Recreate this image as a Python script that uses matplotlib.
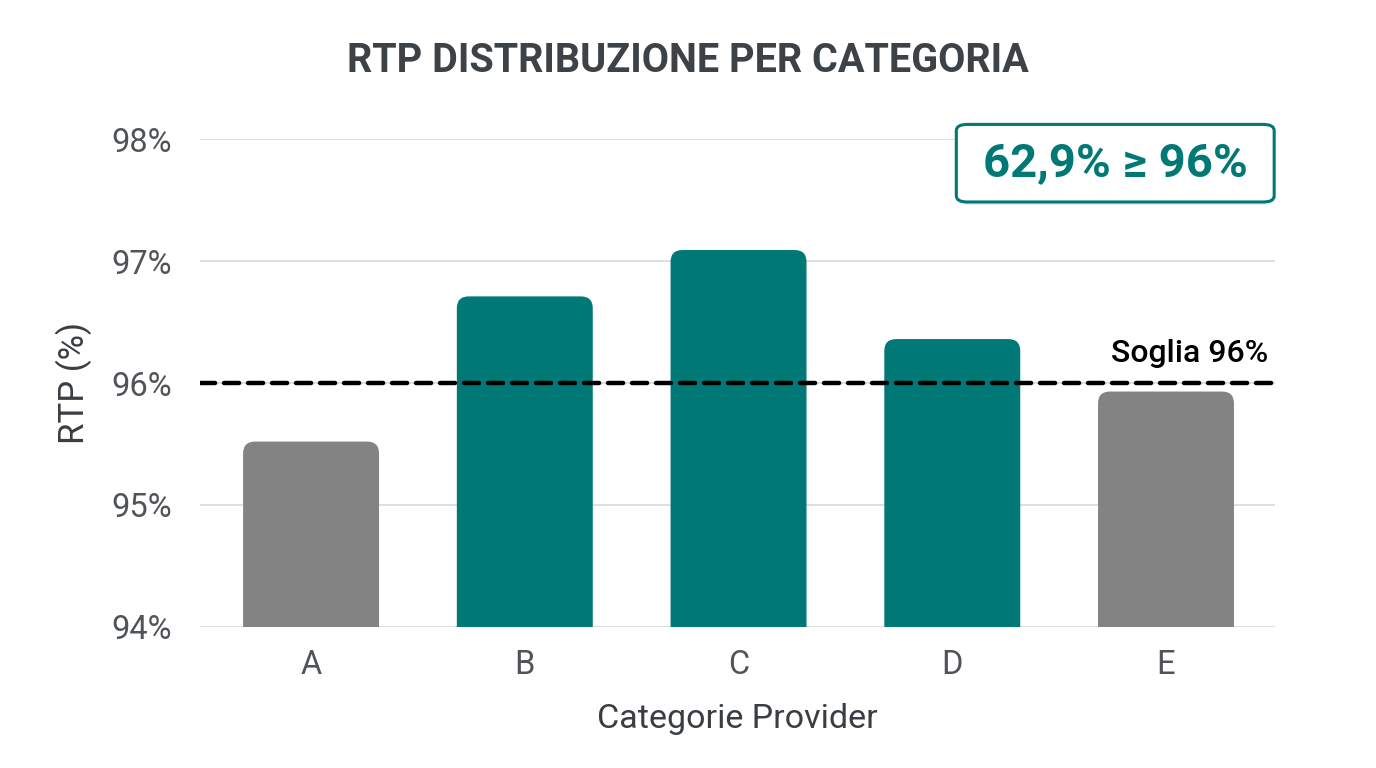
import matplotlib
matplotlib.use('Agg')
from matplotlib import pyplot as plt
from matplotlib.patches import FancyBboxPatch

plt.rcParams['font.family'] = ['Roboto', 'DejaVu Sans']

categories = ['A', 'B', 'C', 'D', 'E']
rtp_values = [95.52, 96.71, 97.09, 96.36, 95.93]
threshold = 96.0
share_label = '62,9% ≥ 96%'
y_ticks = [94, 95, 96, 97, 98]

TEAL = '#007876'
GREY = '#838383'
DARK = '#3d4247'

fig = plt.figure(figsize=(13.76, 7.68), dpi=100)
ax = fig.add_axes([0.1453, 0.1836, 0.7813, 0.6354])

colors = [TEAL if v >= threshold else GREY for v in rtp_values]
bars = ax.bar(range(len(categories)), [v - 94 for v in rtp_values], bottom=94,
              width=0.636, color=colors, zorder=2)

# replace the plain bars with rounded-top versions
for b, c in zip(bars, colors):
    b.set_visible(False)
    x0, w, top = b.get_x(), b.get_width(), b.get_y() + b.get_height()
    p = FancyBboxPatch((x0, 93.7), w, top - 93.7,
                       boxstyle='round,pad=0,rounding_size=0.056',
                       mutation_aspect=1.75, facecolor=c, edgecolor='none',
                       zorder=2)
    ax.add_patch(p)

ax.axhline(threshold, color='black', linewidth=3.2, dashes=(3.4, 2.0),
           dash_capstyle='round', zorder=3)
ax.text(4.48, threshold + 0.12, 'Soglia 96%', ha='right', va='bottom',
        fontsize=23, fontweight='medium', color='black', zorder=4)

ax.set_xlim(-0.52, 4.51)
ax.set_ylim(94, 98)
ax.set_yticks(y_ticks)
ax.set_yticklabels([f'{t}%' for t in y_ticks])
ax.set_xticks(range(len(categories)))
ax.set_xticklabels(categories)
ax.tick_params(length=0, labelsize=23.5, labelcolor='#505458')
ax.tick_params(axis='y', pad=20)
ax.tick_params(axis='x', pad=16)
ax.grid(axis='y', color='#dcdcdc', linewidth=1.3, zorder=0)
for s in ax.spines.values():
    s.set_visible(False)

ax.set_ylabel('RTP (%)', fontsize=25, color='#3a3e42', labelpad=14)
ax.set_xlabel('Categorie Provider', fontsize=24.5, color='#3a3e42', labelpad=16)

fig.text(0.5, 0.92, 'RTP DISTRIBUZIONE PER CATEGORIA', ha='center',
         va='center', fontsize=28.5, fontweight='bold', color=DARK)

# summary box, top right
shadow = FancyBboxPatch((0.697, 0.733), 0.229, 0.1, transform=fig.transFigure,
                        boxstyle='round,pad=0,rounding_size=0.008',
                        facecolor='#e8eeee', edgecolor='none', zorder=5)
box = FancyBboxPatch((0.695, 0.737), 0.231, 0.101, transform=fig.transFigure,
                     boxstyle='round,pad=0,rounding_size=0.008',
                     facecolor='white', edgecolor=TEAL, linewidth=2.2,
                     zorder=6)
fig.patches.extend([shadow, box])
fig.text(0.8105, 0.788, share_label, ha='center', va='center', fontsize=34,
         fontweight='bold', color=TEAL, zorder=7)

fig.savefig('out.png', dpi=100, facecolor='white')
